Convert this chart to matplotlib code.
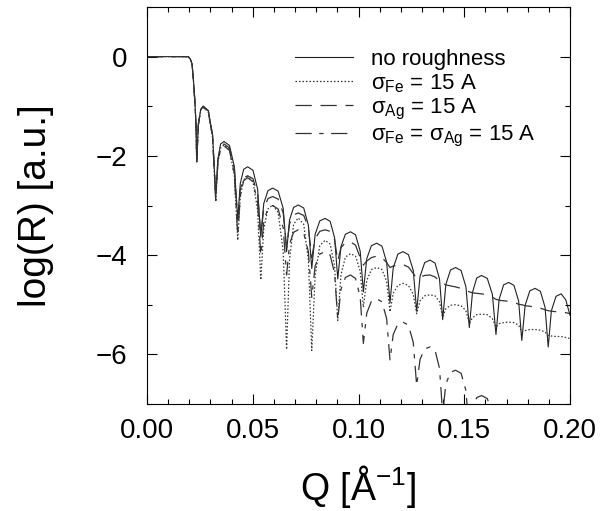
import matplotlib
matplotlib.use("Agg")
import matplotlib.pyplot as plt
from matplotlib.ticker import MultipleLocator, FormatStrFormatter

plt.rcParams['font.family'] = ['Liberation Sans', 'DejaVu Sans']
plt.rcParams['mathtext.fontset'] = 'custom'
plt.rcParams['mathtext.rm'] = 'Liberation Sans'
plt.rcParams['mathtext.it'] = 'Liberation Sans:italic'

# Q grid (1/A), shared by all four curves
q = [0.0000, 0.0195, 0.0205, 0.0213, 0.0220, 0.0227, 0.0232,
     0.0235, 0.0243, 0.0254, 0.0266, 0.0290, 0.0310,
     0.0325, 0.0335, 0.0348, 0.0364, 0.0390, 0.0413,
     0.0429, 0.0441, 0.0457, 0.0476, 0.0501, 0.0523,
     0.0538, 0.0552, 0.0572, 0.0594, 0.0620, 0.0644,
     0.0660, 0.0674, 0.0693, 0.0715, 0.0741, 0.0763,
     0.0779, 0.0795, 0.0817, 0.0842, 0.0866, 0.0887,
     0.0902, 0.0917, 0.0938, 0.0962, 0.0986, 0.1008,
     0.1023, 0.1039, 0.1061, 0.1086, 0.1111, 0.1133,
     0.1149, 0.1164, 0.1186, 0.1210, 0.1236, 0.1259,
     0.1275, 0.1291, 0.1313, 0.1338, 0.1362, 0.1383,
     0.1398, 0.1413, 0.1435, 0.1459, 0.1485, 0.1508,
     0.1524, 0.1539, 0.1559, 0.1582, 0.1609, 0.1633,
     0.1650, 0.1665, 0.1686, 0.1710, 0.1735, 0.1757,
     0.1772, 0.1788, 0.1810, 0.1835, 0.1860, 0.1882,
     0.1897, 0.1912, 0.1934, 0.1958, 0.1980, 0.2000]

no_rough = [0.00, 0.00, -0.05, -0.15, -0.50, -0.95, -1.40,
            -2.11, -1.36, -1.06, -1.00, -1.09, -1.58,
            -2.82, -2.07, -1.76, -1.71, -1.79, -2.22,
            -3.29, -2.56, -2.27, -2.22, -2.29, -2.67,
            -3.63, -2.96, -2.70, -2.65, -2.71, -3.06,
            -3.93, -3.29, -3.04, -2.99, -3.05, -3.40,
            -4.27, -3.58, -3.31, -3.26, -3.32, -3.65,
            -4.48, -3.83, -3.58, -3.53, -3.59, -3.92,
            -4.74, -4.07, -3.81, -3.76, -3.82, -4.14,
            -4.96, -4.26, -3.98, -3.93, -3.99, -4.31,
            -5.13, -4.43, -4.15, -4.10, -4.16, -4.48,
            -5.30, -4.59, -4.30, -4.25, -4.31, -4.64,
            -5.46, -4.75, -4.46, -4.41, -4.47, -4.79,
            -5.60, -4.89, -4.60, -4.55, -4.61, -4.92,
            -5.72, -5.01, -4.72, -4.67, -4.73, -5.05,
            -5.85, -5.12, -4.83, -4.78, -4.90, -5.21]

sig_fe = [0.00, 0.00, -0.05, -0.15, -0.50, -0.95, -1.40,
          -2.12, -1.37, -1.08, -1.02, -1.12, -1.63,
          -2.92, -2.14, -1.84, -1.78, -1.88, -2.39,
          -3.70, -2.83, -2.48, -2.42, -2.52, -3.09,
          -4.50, -3.47, -3.07, -2.99, -3.14, -3.92,
          -5.90, -4.10, -3.38, -3.25, -3.38, -4.10,
          -5.92, -4.41, -3.81, -3.70, -3.78, -4.22,
          -5.32, -4.40, -4.04, -3.97, -4.02, -4.32,
          -5.05, -4.51, -4.29, -4.25, -4.29, -4.53,
          -5.14, -4.77, -4.61, -4.57, -4.61, -4.79,
          -5.18, -4.92, -4.82, -4.80, -4.82, -4.94,
          -5.25, -5.08, -5.01, -5.00, -5.02, -5.12,
          -5.38, -5.26, -5.20, -5.19, -5.20, -5.28,
          -5.45, -5.38, -5.36, -5.35, -5.36, -5.41,
          -5.55, -5.52, -5.50, -5.50, -5.51, -5.55,
          -5.62, -5.63, -5.64, -5.64, -5.66, -5.68]

sig_ag = [0.00, 0.00, -0.05, -0.15, -0.50, -0.95, -1.40,
          -2.11, -1.36, -1.06, -1.00, -1.09, -1.58,
          -2.82, -2.10, -1.81, -1.76, -1.84, -2.25,
          -3.29, -2.68, -2.44, -2.40, -2.46, -2.78,
          -3.60, -3.07, -2.86, -2.82, -2.87, -3.15,
          -3.85, -3.37, -3.19, -3.15, -3.20, -3.44,
          -4.05, -3.67, -3.52, -3.49, -3.52, -3.69,
          -4.12, -3.85, -3.75, -3.73, -3.80, -4.05,
          -4.20, -4.12, -4.05, -4.02, -4.05, -4.15,
          -4.25, -4.22, -4.20, -4.19, -4.24, -4.37,
          -4.47, -4.44, -4.41, -4.40, -4.44, -4.52,
          -4.57, -4.60, -4.62, -4.64, -4.67, -4.71,
          -4.74, -4.76, -4.77, -4.78, -4.80, -4.85,
          -4.89, -4.91, -4.92, -4.93, -4.95, -4.99,
          -5.00, -5.02, -5.03, -5.05, -5.07, -5.10,
          -5.12, -5.13, -5.14, -5.15, -5.16, -5.18]

sig_both = [0.00, 0.00, -0.05, -0.15, -0.50, -0.95, -1.40,
            -2.12, -1.37, -1.08, -1.02, -1.12, -1.62,
            -2.90, -2.15, -1.86, -1.80, -1.89, -2.38,
            -3.60, -2.81, -2.50, -2.44, -2.52, -2.94,
            -4.00, -3.32, -3.05, -3.00, -3.07, -3.45,
            -4.40, -3.78, -3.54, -3.49, -3.56, -3.93,
            -4.85, -4.22, -3.98, -3.93, -4.00, -4.37,
            -5.30, -4.69, -4.45, -4.40, -4.47, -4.84,
            -5.78, -5.17, -4.93, -4.88, -4.94, -5.28,
            -6.12, -5.60, -5.39, -5.35, -5.41, -5.76,
            -6.63, -6.10, -5.89, -5.85, -5.92, -6.28,
            -7.20, -6.60, -6.36, -6.32, -6.38, -6.73,
            -7.60, -7.08, -6.87, -6.83, -6.89, -7.20,
            -8.00, -7.60, -7.36, -7.30, -7.36, -7.70,
            -8.30, -7.95, -7.72, -7.68, -7.72, -8.00,
            -8.50, -8.25, -8.05, -8.00, -8.05, -8.15]

labels = ['no roughness',
          r'$\mathrm{\sigma_{Fe}}$ = 15 A',
          r'$\mathrm{\sigma_{Ag}}$ = 15 A',
          r'$\mathrm{\sigma_{Fe}}$ = $\mathrm{\sigma_{Ag}}$ = 15 A']

fig = plt.figure(figsize=(6.02, 5.11), dpi=100)
ax = fig.add_axes([147/602, 1-404/511, 423/602, 397/511])

ax.plot(q, no_rough, color='#222222', lw=0.8, ls='-', label=labels[0])
ax.plot(q, sig_fe, color='#333333', lw=0.9, ls=(0, (1.2, 1.6)), label=labels[1])
ax.plot(q, sig_ag, color='#333333', lw=0.9, ls=(0, (13, 7)), label=labels[2])
ax.plot(q, sig_both, color='#333333', lw=0.9, ls=(0, (13, 6, 3.5, 6)), label=labels[3])

ax.set_xlim(0, 0.2)
ax.set_ylim(-7, 1)
ax.xaxis.set_major_locator(MultipleLocator(0.05))
ax.xaxis.set_minor_locator(MultipleLocator(0.01))
ax.xaxis.set_major_formatter(FormatStrFormatter('%.2f'))
ax.yaxis.set_major_locator(MultipleLocator(2))
ax.yaxis.set_minor_locator(MultipleLocator(1))
ax.tick_params(which='both', direction='in', top=True, right=True, width=0.8)
ax.tick_params(which='major', length=7, labelsize=20)
ax.tick_params(which='minor', length=3.6)
ax.tick_params(axis='x', pad=10)
ax.tick_params(axis='y', pad=14)
for s in ax.spines.values():
    s.set_linewidth(0.8)

ax.set_xlabel(r'Q [Å$^{\mathregular{-1}}$]', fontsize=27, labelpad=14)
ax.set_ylabel('log(R) [a.u.]', fontsize=28, labelpad=30)

ax.legend(loc='upper left', bbox_to_anchor=(0.35, 0.895), frameon=False,
          fontsize=16, handlelength=2.6, handletextpad=0.8,
          labelspacing=0.1, borderaxespad=0, borderpad=0)

fig.savefig('out.png', dpi=100)
